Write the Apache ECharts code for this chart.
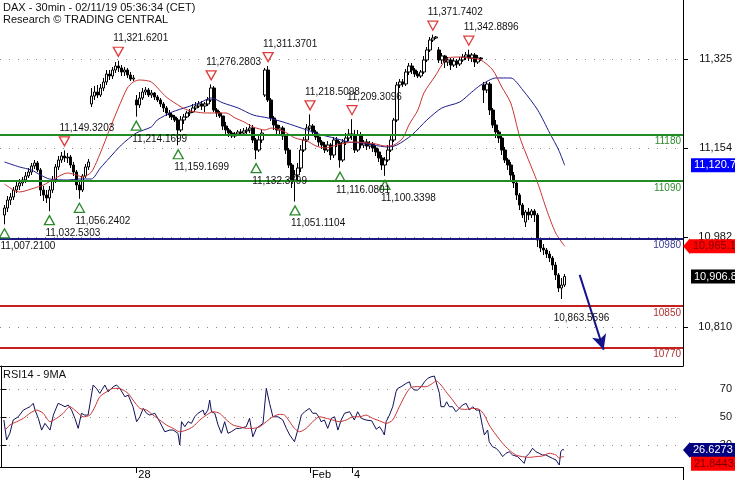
<!DOCTYPE html>
<html><head><meta charset="utf-8">
<script src="https://cdn.jsdelivr.net/npm/echarts@6/dist/echarts.min.js"></script>
<style>html,body{margin:0;padding:0;background:#fff}#c{width:735px;height:480px}</style>
</head><body><div id="c"></div>
<script>
// ---------- DATA ----------
const barCount = 228;            // category slots on the time axis (incl. empty space on the right)
const firstBar = 1;              // slot of the first candle
// 30-min candles: [open, close, low, high]
const candles = [
[11025.1,11038.5,11007.21,11044.3],[11038.5,11053.9,11030.8,11061.6],[11053.9,11059.7,11044.3,11067.4],[11059.7,11073.1,11053.9,11078.9],
[11073.1,11080.8,11067.4,11088.5],[11080.8,11086.6,11073.1,11094.3],[11086.6,11092.4,11080.8,11098.1],[11092.4,11100.1,11086.6,11107.7],
[11100.1,11107.7,11096.2,11115.4],[11107.7,11119.3,11102.0,11125.1],[11119.3,11125.1,11113.5,11130.8],[11125.1,11111.6,11107.7,11128.9],
[11111.6,11073.1,11061.6,11115.4],[11073.1,11063.5,11052.0,11080.8],[11063.5,11057.8,11048.2,11073.1],[11057.8,11073.1,11032.53,11080.8],
[11073.1,11092.4,11067.4,11100.1],[11092.4,11117.4,11086.6,11123.1],[11117.4,11130.8,11111.6,11138.5],[11130.8,11138.5,11125.1,11146.2],
[11138.5,11134.7,11127.0,11149.32],[11134.7,11136.6,11125.1,11144.3],[11136.6,11121.2,11115.4,11140.4],[11121.2,11107.7,11100.1,11127.0],
[11107.7,11082.7,11073.1,11111.6],[11082.7,11073.1,11056.24,11092.4],[11073.1,11100.1,11069.3,11103.9],[11100.1,11117.4,11096.2,11123.1],
[11117.4,11127.0,11111.6,11132.7],[11238.5,11253.8,11232.7,11269.2],[11253.8,11261.5,11246.2,11273.1],[11261.5,11255.8,11250.0,11275.0],
[11255.8,11269.2,11251.9,11276.9],[11269.2,11280.8,11263.4,11288.5],[11280.8,11296.1,11275.0,11303.8],[11296.1,11292.3,11284.6,11303.8],
[11292.3,11303.8,11286.5,11309.6],[11303.8,11311.5,11298.1,11319.2],[11311.5,11307.7,11300.0,11321.62],[11307.7,11300.0,11292.3,11313.4],
[11300.0,11303.8,11292.3,11309.6],[11303.8,11294.2,11288.5,11307.7],[11294.2,11286.5,11282.7,11300.0],[11286.5,11288.5,11282.7,11294.2],
[11246.2,11236.6,11214.17,11255.8],[11236.6,11250.0,11230.8,11261.5],[11250.0,11261.5,11246.2,11269.2],[11261.5,11265.4,11255.8,11271.2],
[11265.4,11255.8,11251.9,11269.2],[11255.8,11259.6,11250.0,11265.4],[11259.6,11251.9,11246.2,11261.5],[11251.9,11246.2,11242.3,11255.8],
[11246.2,11238.5,11232.7,11250.0],[11238.5,11230.8,11223.1,11242.3],[11230.8,11221.2,11215.4,11234.6],[11221.2,11217.3,11211.6,11226.9],
[11217.3,11213.5,11207.7,11221.2],[11213.5,11207.7,11203.9,11217.3],[11207.7,11188.5,11159.17,11211.6],[11188.5,11207.7,11184.6,11215.4],
[11207.7,11213.5,11200.0,11219.2],[11213.5,11221.2,11211.6,11225.0],[11221.2,11223.1,11215.4,11228.9],[11223.1,11230.8,11221.2,11238.5],
[11230.8,11234.6,11226.9,11242.3],[11234.6,11238.5,11230.8,11244.2],[11238.5,11234.6,11226.9,11244.2],[11234.6,11238.5,11223.1,11242.3],
[11238.5,11246.2,11234.6,11251.9],[11246.2,11269.2,11242.3,11276.28],[11269.2,11226.9,11223.1,11273.1],[11226.9,11221.2,11213.5,11230.8],
[11221.2,11215.4,11211.6,11225.0],[11215.4,11196.2,11188.5,11215.4],[11196.2,11188.5,11180.8,11203.9],[11188.5,11182.7,11175.0,11192.3],
[11182.7,11177.0,11173.1,11186.6],[11177.0,11180.8,11173.1,11184.6],[11180.8,11184.6,11177.0,11188.5],[11184.6,11182.7,11177.0,11190.4],
[11182.7,11186.6,11178.9,11192.3],[11186.6,11188.5,11180.8,11194.3],[11188.5,11192.3,11182.7,11200.0],[11192.3,11169.3,11163.5,11198.1],
[11169.3,11150.0,11132.38,11173.1],[11150.0,11169.3,11146.2,11177.0],[11169.3,11182.7,11163.5,11188.5],[11255.8,11303.8,11251.9,11307.7],
[11303.8,11246.2,11242.3,11311.37],[11246.2,11211.6,11205.8,11250.0],[11211.6,11198.1,11188.5,11215.4],[11198.1,11188.5,11177.0,11207.7],
[11188.5,11192.3,11178.9,11198.1],[11192.3,11177.0,11169.3,11196.2],[11177.0,11150.0,11142.4,11180.8],[11150.0,11121.2,11115.4,11153.9],
[11121.2,11092.4,11077.0,11125.1],[11092.4,11102.0,11051.11,11111.6],[11102.0,11115.4,11092.4,11125.1],[11115.4,11150.0,11107.7,11159.6],
[11150.0,11169.3,11146.2,11175.0],[11169.3,11192.3,11165.4,11200.0],[11192.3,11196.2,11188.5,11218.51],[11196.2,11184.6,11177.0,11200.0],
[11184.6,11175.0,11169.3,11188.5],[11175.0,11165.4,11157.7,11178.9],[11165.4,11159.6,11152.0,11169.3],[11159.6,11150.0,11144.3,11165.4],
[11150.0,11159.6,11146.2,11167.3],[11159.6,11140.4,11130.8,11163.5],[11140.4,11169.3,11134.7,11175.0],[11169.3,11163.5,11155.8,11175.0],
[11163.5,11130.8,11116.08,11167.3],[11130.8,11165.4,11127.0,11171.2],[11165.4,11173.1,11159.6,11182.7],[11173.1,11180.8,11167.3,11190.4],
[11180.8,11178.9,11169.3,11209.31],[11178.9,11150.0,11144.3,11188.5],[11150.0,11178.9,11146.2,11188.5],[11178.9,11159.6,11153.9,11184.6],
[11159.6,11165.4,11153.9,11169.3],[11165.4,11157.7,11150.0,11171.2],[11157.7,11161.6,11152.0,11167.3],[11161.6,11153.9,11146.2,11165.4],
[11153.9,11146.2,11138.5,11159.6],[11146.2,11134.7,11127.0,11152.0],[11134.7,11121.2,11111.6,11140.4],[11121.2,11130.8,11100.34,11136.6],
[11130.8,11150.0,11127.0,11159.6],[11150.0,11169.3,11146.2,11177.0],[11169.3,11207.7,11165.4,11211.6],[11207.7,11275.0,11203.9,11280.8],
[11275.0,11280.8,11269.2,11286.5],[11280.8,11276.9,11271.2,11286.5],[11276.9,11300.0,11273.1,11305.8],[11300.0,11311.5,11294.2,11317.3],
[11311.5,11303.8,11296.1,11317.3],[11303.8,11296.1,11290.4,11307.7],[11296.1,11292.3,11288.5,11301.9],[11292.3,11300.0,11288.5,11303.8],
[11300.0,11323.1,11296.1,11330.8],[11323.1,11342.3,11319.2,11348.0],[11342.3,11361.5,11338.4,11367.3],[11361.5,11365.4,11357.7,11371.74],
[11365.4,11367.3,11363.4,11369.2],[11342.3,11323.1,11317.3,11348.0],[11323.1,11330.8,11315.4,11336.5],[11330.8,11319.2,11307.7,11332.7],
[11319.2,11323.1,11311.5,11328.8],[11323.1,11313.4,11303.8,11326.9],[11313.4,11321.1,11309.6,11326.9],[11321.1,11315.4,11307.7,11325.0],
[11315.4,11323.1,11311.5,11328.8],[11323.1,11328.8,11319.2,11334.6],[11328.8,11332.7,11323.1,11338.4],[11332.7,11326.9,11321.1,11342.89],
[11326.9,11332.7,11319.2,11336.5],[11332.7,11319.2,11309.6,11336.5],[11319.2,11326.9,11315.4,11332.7],[11326.9,11325.0,11321.1,11328.8],
[11275.0,11265.4,11240.4,11280.8],[11265.4,11276.9,11259.6,11280.8],[11276.9,11226.9,11217.3,11280.8],[11226.9,11198.1,11192.3,11230.8],
[11198.1,11184.6,11173.1,11207.7],[11184.6,11173.1,11163.5,11188.5],[11173.1,11150.0,11140.4,11177.0],[11150.0,11130.8,11125.1,11155.8],
[11130.8,11121.2,11111.6,11134.7],[11121.2,11102.0,11092.4,11127.0],[11102.0,11086.6,11077.0,11107.7],[11086.6,11063.5,11053.9,11092.4],
[11063.5,11044.3,11034.7,11067.4],[11044.3,11025.1,11019.3,11048.2],[11011.6,11030.8,11002.0,11034.7],[11030.8,11025.1,11015.5,11038.5],
[11025.1,11032.8,11019.3,11036.6],[11032.8,11025.1,11011.6,11036.6],[11025.1,10977.0,10963.5,11028.9],[10977.0,10961.6,10954.0,10980.9],
[10961.6,10957.8,10948.2,10969.3],[10957.8,10950.1,10942.4,10961.6],[10950.1,10942.4,10934.7,10955.9],[10942.4,10928.9,10919.4,10946.3],
[10928.9,10909.8,10900.1,10934.7],[10909.8,10884.7,10877.1,10913.6],[10884.7,10890.5,10863.56,10904.0],[10890.5,10906.8,10886.7,10911.7]
];
// moving averages: [slot, value]
const maFast = [[1,11084.7],[4,11073.1],[6,11069.3],[11,11077.0],[14,11082.7],[17,11092.4],[22,11105.8],[25,11102.0],[27,11098.1],[30,11107.7],[33,11144.3],[36,11188.5],[39,11230.8],[42,11269.2],[44,11280.8],[46,11284.6],[50,11280.8],[55,11251.9],[60,11232.7],[62,11226.9],[65,11223.1],[68,11221.2],[71,11221.2],[75,11221.2],[78,11211.6],[81,11203.9],[84,11194.3],[88,11188.5],[90,11192.3],[94,11186.6],[98,11173.1],[102,11167.3],[105,11157.7],[108,11153.9],[112,11159.6],[115,11163.5],[118,11165.4],[122,11163.5],[125,11161.6],[128,11157.7],[131,11159.6],[134,11173.1],[136,11198.1],[139,11226.9],[141,11259.6],[145,11294.2],[147,11313.4],[149,11326.9],[153,11328.8],[156,11326.9],[160,11323.1],[164,11303.8],[167,11271.2],[170,11240.4],[173,11175.0],[175,11144.3],[179,11086.6],[182,11034.7],[185,10990.5],[188,10965.1]];
const maSlow = [[1,11127.0],[6,11117.4],[10,11111.6],[13,11102.0],[16,11094.3],[22,11092.4],[26,11094.3],[30,11094.3],[33,11115.4],[36,11134.7],[40,11159.6],[45,11182.7],[50,11194.3],[52,11207.7],[57,11223.1],[62,11232.7],[66,11240.4],[70,11250.0],[74,11240.4],[79,11230.8],[84,11217.3],[89,11211.6],[94,11203.9],[99,11194.3],[102,11188.5],[107,11178.9],[111,11173.1],[116,11165.4],[120,11163.5],[124,11159.6],[129,11155.8],[132,11159.6],[137,11178.9],[142,11207.7],[147,11230.8],[153,11242.3],[157,11261.5],[160,11275.0],[165,11288.5],[170,11288.5],[174,11265.4],[179,11226.9],[183,11182.7],[186,11150.0],[188,11120.7]];
// RSI14 and its 9MA: [slot, value]
const rsi = [[0.8,48.1],[1.7,33.8],[2.8,38.6],[3.9,48.1],[5.6,50.4],[7.3,55.2],[8.4,56.4],[9.5,57.6],[10.6,60.0],[11.2,55.2],[12.3,49.3],[13.4,40.9],[14.5,45.7],[16.2,40.9],[17.3,51.6],[18.9,60.0],[20.1,58.8],[21.2,57.6],[22.3,58.8],[23.4,55.2],[24.5,49.3],[25.6,42.1],[26.7,52.9],[27.8,51.6],[28.9,51.6],[30.6,73.1],[31.7,70.7],[32.8,67.1],[34.5,73.1],[35.6,68.3],[37.3,71.9],[38.4,73.1],[39.5,70.7],[41.2,64.7],[42.3,65.9],[43.9,57.6],[45.1,46.9],[46.2,50.4],[47.3,56.4],[48.4,52.9],[49.5,51.6],[51.2,52.9],[52.8,46.9],[54.5,39.7],[56.2,40.9],[57.3,40.9],[58.9,38.6],[59.5,30.2],[60.1,46.9],[61.2,43.3],[62.3,46.9],[63.4,45.7],[64.5,50.4],[65.6,52.9],[67.3,55.2],[67.8,51.6],[68.9,55.2],[69.5,62.4],[70.1,54.0],[71.2,52.9],[72.3,44.5],[73.4,38.6],[74.5,46.9],[75.6,38.6],[76.7,39.7],[78.4,42.1],[79.5,42.1],[81.7,43.3],[82.8,49.3],[83.9,36.1],[85.1,42.1],[87.3,45.7],[88.4,70.7],[89.5,60.0],[90.6,50.4],[92.3,50.4],[93.9,48.1],[95.1,42.1],[96.2,37.4],[97.8,32.6],[98.9,40.9],[100.1,51.6],[101.2,54.0],[102.8,56.4],[103.9,52.9],[105.1,52.9],[106.2,49.3],[106.7,46.9],[107.8,48.1],[108.9,42.1],[110.1,49.3],[111.2,50.4],[112.3,40.9],[113.4,48.1],[114.5,52.9],[116.2,54.0],[117.8,48.1],[118.9,54.0],[120.1,49.3],[121.7,48.1],[123.6,47.5],[125.1,41.5],[126.2,43.3],[127.3,39.7],[127.8,37.4],[128.4,46.9],[129.5,51.6],[130.6,57.6],[131.7,68.3],[132.3,70.7],[133.4,71.9],[135.1,74.3],[136.2,75.4],[136.7,71.9],[137.8,69.5],[138.9,69.5],[140.1,71.9],[141.2,75.4],[142.3,77.9],[143.4,79.0],[144.5,79.5],[145.1,79.0],[146.2,67.1],[146.7,57.6],[147.8,57.6],[148.6,61.1],[149.5,57.6],[150.6,57.6],[151.7,54.0],[152.8,56.4],[153.9,58.8],[155.1,60.0],[156.2,55.2],[157.3,57.6],[158.4,55.2],[159.5,55.2],[160.6,43.3],[161.2,37.4],[162.3,40.9],[162.8,32.6],[163.9,29.0],[165.1,27.9],[166.2,25.4],[167.3,21.9],[168.4,24.3],[169.5,25.4],[170.6,23.1],[172.3,21.9],[173.4,19.5],[174.5,17.1],[175.1,21.9],[176.2,24.3],[177.3,27.9],[178.4,25.4],[179.5,24.3],[180.6,23.1],[181.7,23.1],[182.8,21.9],[183.9,20.7],[185.1,19.5],[186.2,15.9],[186.7,25.4],[187.3,27.1],[187.8,26.6273]];
const rsiMa = [[1.2,40.9],[2.8,44.5],[5.1,46.9],[7.3,49.3],[9.5,52.9],[11.7,55.2],[13.9,52.9],[16.2,46.9],[18.4,49.3],[20.6,52.9],[22.8,57.6],[25.1,54.0],[27.3,50.4],[29.5,51.6],[31.2,57.6],[32.8,64.7],[35.1,68.3],[37.3,70.7],[38.9,70.7],[40.6,69.5],[42.3,67.1],[43.9,62.4],[46.2,56.4],[48.4,55.2],[50.6,51.6],[52.8,48.1],[55.1,44.5],[57.3,42.1],[59.5,39.7],[61.7,40.9],[63.9,43.3],[66.2,48.1],[68.4,51.6],[70.6,54.0],[72.8,52.9],[75.1,48.1],[77.3,44.5],[79.5,43.3],[81.7,42.1],[83.9,42.1],[86.2,43.3],[88.4,46.9],[90.6,50.4],[92.8,52.1],[94.5,51.6],[96.2,46.9],[97.8,42.1],[99.5,39.7],[101.7,42.1],[103.9,46.9],[106.2,50.4],[108.4,49.3],[110.6,48.1],[112.8,46.9],[115.1,48.1],[117.3,50.4],[119.5,50.4],[121.7,51.6],[123.9,49.3],[126.2,47.5],[128.4,45.7],[130.6,48.1],[132.8,57.6],[135.1,67.1],[136.7,71.4],[138.9,71.9],[141.7,71.9],[143.9,74.3],[145.1,76.1],[146.7,73.1],[148.4,68.3],[150.6,62.4],[152.8,56.4],[155.1,55.7],[157.3,56.4],[159.5,55.7],[161.2,51.6],[162.8,44.5],[165.1,37.4],[167.3,31.4],[169.5,26.6],[171.7,23.1],[173.9,21.9],[176.2,21.4],[178.4,21.9],[180.6,22.4],[182.8,24.3],[185.1,23.1],[186.2,20.7],[187.3,21.9],[187.8,21.8443]];
// annotations
const swingHighs = [[21,11149.3203],[39,11321.6201],[70,11276.2803],[89,11311.3701],[103,11218.5098],[117,11209.3096],[144,11371.7402],[156,11342.8896]];
const swingLows = [[1,11007.2100],[16,11032.5303],[26,11056.2402],[45,11214.1699],[59,11159.1699],[85,11132.3799],[98,11051.1104],[113,11116.0801],[128,11100.3398]];
const lastLow = [187,10863.5596];
const supportResistance = [11180,11090,10980,10850,10770];
const arrowFrom = [193,10910], arrowTo = [201,10766];
// axis ticks
const priceTicks = [10810,10982,11154,11325];
const priceRange = [10734.8,11438.4];
const rsiTicks = [30,50,70];
const rsiRange = [14.5,86.7];
const dateTickSlots = [45,103,117];
const dateTickLabels = ['28','Feb','4'];
// last values for right-edge tags
const lastFast = 10965.1, lastSlow = 11120.7, lastRsi = 26.6273, lastRsiMa = 21.8443;

// ---------- CHART ----------
const FONT = 'Liberation Sans, Arial, sans-serif';
const cats = []; for (let i = 0; i < barCount; i++) cats.push(String(i));
const candleData = candles.map((c, k) => [firstBar + k, c[0], c[1], c[2], c[3]]);
const lastClose = candles[candles.length - 1][1];
const f4 = v => v.toLocaleString('en-US', {minimumFractionDigits: 4, maximumFractionDigits: 4});
const f1 = v => v.toLocaleString('en-US', {minimumFractionDigits: 1, maximumFractionDigits: 1});
const levelStyle = {11180: ['#228b22','#2e8b2e'], 11090: ['#228b22','#2e8b2e'], 10980: ['#1a1a80','#3a3a90'], 10850: ['#c42020','#b03030'], 10770: ['#c42020','#b03030']};

function tagLine(value, text, bg, fg, dist, offY) {
  return {yAxis: value, lineStyle: {color: 'rgba(0,0,0,0)', width: 1}, symbol: 'none',
    label: {show: true, position: 'end', distance: dist, formatter: text, backgroundColor: bg, color: fg,
      fontSize: 11, fontFamily: FONT, padding: [2, 12, 1, 3], offset: [0, offY || 0]}};
}
const leftArrow = {symbol: 'triangle', symbolRotate: 90, symbolSize: [16, 7]};

const marks = [];
swingHighs.forEach(([i, v]) => marks.push({coord: [i, v], symbol: 'path://M0,0L10,0L5,9Z', symbolSize: [10, 9], symbolOffset: [0, -9],
  itemStyle: {color: 'rgba(255,255,255,0)', borderColor: '#e03c3c', borderWidth: 1.3},
  label: {show: true, position: 'top', distance: 3, align: 'left', offset: [-5, 0], formatter: f4(v), color: '#111', fontSize: 10, fontFamily: FONT}}));
swingLows.forEach(([i, v]) => marks.push({coord: [i, v], symbol: 'triangle', symbolSize: [10, 9], symbolOffset: [0, 9],
  itemStyle: {color: 'rgba(255,255,255,0)', borderColor: '#2a8a2a', borderWidth: 1.3},
  label: {show: true, position: 'bottom', distance: 3, align: 'left', offset: [-4, 0], formatter: f4(v), color: '#111', fontSize: 10, fontFamily: FONT}}));
marks.push({coord: lastLow, symbol: 'circle', symbolSize: 1, itemStyle: {color: 'rgba(0,0,0,0)'},
  label: {show: true, position: 'bottom', distance: 14, align: 'left', offset: [-8, 0], formatter: f4(lastLow[1]), color: '#111', fontSize: 10, fontFamily: FONT}});

const levelLines = supportResistance.map(v => ({yAxis: v, lineStyle: {color: levelStyle[v][0], width: 2, type: 'solid'},
  label: {show: true, position: 'insideEndBottom', distance: 2, formatter: String(v), color: levelStyle[v][1], fontSize: 10, fontFamily: FONT}}));

const option = {
  animation: false,
  textStyle: {fontFamily: FONT},
  title: [
    {text: 'DAX - 30min - 02/11/19 05:36:34 (CET)\nResearch © TRADING CENTRAL', left: 3, top: 2, padding: 0,
      textStyle: {fontSize: 11, fontWeight: 'normal', color: '#111', lineHeight: 12, fontFamily: FONT}},
    {text: 'RSI14 - 9MA', left: 3, top: 369, padding: 0, textStyle: {fontSize: 11, fontWeight: 'normal', color: '#111', lineHeight: 12, fontFamily: FONT}}
  ],
  grid: [
    {left: 0, top: 0, width: 683, height: 366},
    {left: 0, top: 366, width: 683, height: 101}
  ],
  xAxis: [
    {type: 'category', gridIndex: 0, data: cats, boundaryGap: true,
      axisLine: {lineStyle: {color: '#000', width: 1}}, axisTick: {show: false}, axisLabel: {show: false}, splitLine: {show: false}},
    {type: 'value', gridIndex: 1, min: -0.5, max: barCount - 0.5,
      axisLine: {onZero: false, lineStyle: {color: '#000', width: 1}},
      axisTick: {show: true, length: 6, customValues: dateTickSlots, lineStyle: {color: '#000'}},
      axisLabel: {show: true, customValues: dateTickSlots, align: 'left', margin: 2, padding: [0, 0, 0, 2], color: '#000', fontSize: 11,
        formatter: v => dateTickLabels[dateTickSlots.indexOf(Math.round(v))] || ''},
      splitLine: {show: false}}
  ],
  yAxis: [
    {type: 'value', gridIndex: 0, position: 'right', min: priceRange[0], max: priceRange[1],
      axisLine: {show: true, lineStyle: {color: '#000'}},
      axisTick: {show: true, length: 5, customValues: priceTicks, lineStyle: {color: '#000'}},
      axisLabel: {customValues: priceTicks, align: 'right', margin: 49, color: '#111', fontSize: 11, formatter: v => Math.round(v).toLocaleString('en-US')},
      splitLine: {show: true, lineStyle: {type: [1, 8], color: '#8c8c8c'}}},
    {type: 'value', gridIndex: 1, position: 'right', min: rsiRange[0], max: rsiRange[1],
      axisLine: {show: true, lineStyle: {color: '#000'}},
      axisTick: {show: true, length: 5, customValues: rsiTicks, lineStyle: {color: '#000'}},
      axisLabel: {customValues: rsiTicks, align: 'right', margin: 49, color: '#111', fontSize: 11},
      splitLine: {show: true, lineStyle: {type: [1, 8], color: '#8c8c8c'}}}
  ],
  series: [
    {type: 'candlestick', xAxisIndex: 0, yAxisIndex: 0, data: candleData, encode: {x: 0, y: [1, 2, 3, 4]},
      barWidth: 3, clip: false,
      itemStyle: {color: '#ffffff', color0: '#000000', borderColor: '#000000', borderColor0: '#000000', borderWidth: 1},
      markLine: {silent: true, symbol: ['none', 'none'], symbolSize: 12, animation: false, lineStyle: {type: 'solid'},
        data: levelLines.concat([
          [{coord: arrowFrom, symbol: 'none', lineStyle: {color: '#14148a', width: 2, type: 'solid'}, label: {show: false}},
           {coord: arrowTo, symbol: 'arrow', symbolSize: [11, 15]}],
          tagLine(lastClose, f1(lastClose), '#000000', '#ffffff', 8)
        ])},
      markPoint: {silent: true, data: marks}
    },
    {type: 'line', xAxisIndex: 0, yAxisIndex: 0, data: maSlow, showSymbol: false, smooth: 0.25, clip: false,
      lineStyle: {color: '#1c1c8c', width: 1},
      markLine: {silent: true, symbol: ['none', 'none'], data: [tagLine(lastSlow, f1(lastSlow), '#0000ff', '#ffffff', 8)]}},
    {type: 'line', xAxisIndex: 0, yAxisIndex: 0, data: maFast, showSymbol: false, smooth: 0.25, clip: false,
      lineStyle: {color: '#c83232', width: 1},
      markLine: {silent: true, symbol: ['none', 'none'], data: [tagLine(lastFast, f1(lastFast), '#ff0000', '#7a0000', 7)]},
      markPoint: {silent: true, data: [Object.assign({coord: [barCount - 1, lastFast], symbolOffset: [5, 0], itemStyle: {color: '#ff0000'}, label: {show: false}}, leftArrow)]}},
    {type: 'line', xAxisIndex: 1, yAxisIndex: 1, data: rsi, showSymbol: false, clip: false,
      lineStyle: {color: '#10105a', width: 1},
      markLine: {silent: true, symbol: ['none', 'none'], data: [tagLine(lastRsi, String(lastRsi), '#000080', '#ffffff', 7)]},
      markPoint: {silent: true, data: [Object.assign({coord: [barCount - 0.5, lastRsi], symbolOffset: [3.5, 0], itemStyle: {color: '#000080'}, label: {show: false}}, leftArrow)]}},
    {type: 'line', xAxisIndex: 1, yAxisIndex: 1, data: rsiMa, showSymbol: false, smooth: 0.25, clip: false,
      lineStyle: {color: '#c83232', width: 1},
      markLine: {silent: true, symbol: ['none', 'none'], data: [tagLine(lastRsiMa, String(lastRsiMa), '#ff0000', '#7a0000', 8, 7)]}}
  ],
  graphic: [{type: 'line', silent: true, shape: {x1: 683.5, y1: 467, x2: 683.5, y2: 480}, style: {stroke: '#000', lineWidth: 1}}]
};
const chart = echarts.init(document.getElementById('c'), null, {renderer: 'canvas'});
chart.setOption(option);
</script></body></html>
